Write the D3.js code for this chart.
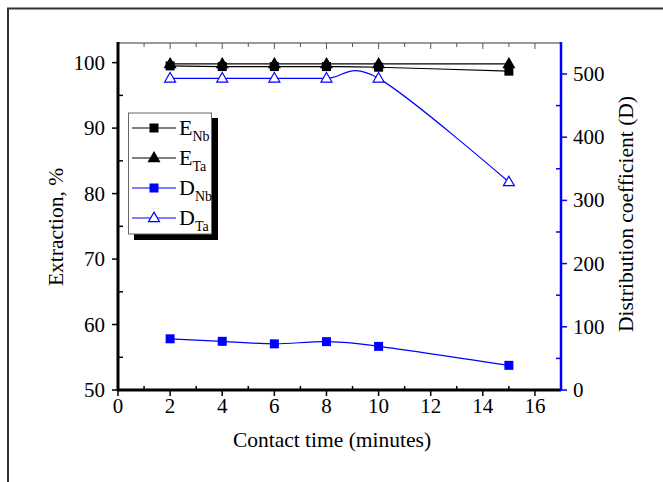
<!DOCTYPE html>
<html>
<head>
<meta charset="utf-8">
<script src="https://d3js.org/d3.v7.min.js"></script>
<style>
    body { margin: 0; background: #fff; }
    text { font-family: "Liberation Serif", "DejaVu Serif", serif; }
</style>
</head>
<body>
<div id="chart"></div>
<script>
// contact time (minutes)
const times = [2, 4, 6, 8, 10, 15];
// extraction, %
const e_nb = [99.5, 99.4, 99.4, 99.4, 99.3, 98.7];
const e_ta = [99.8, 99.8, 99.8, 99.8, 99.8, 99.8];
// distribution coefficient
const d_nb = [81, 77, 73, 76.5, 69, 39];
const d_ta = [493, 493, 493, 493, 493, 329];

const x_ticks = [0, 2, 4, 6, 8, 10, 12, 14, 16];
const left_ticks = [50, 60, 70, 80, 90, 100];
const right_ticks = [0, 100, 200, 300, 400, 500];

const width = 663, height = 482;
const blue = '#0000ff';

let svg = d3.select('#chart').append('svg')
    .attr('width', width)
    .attr('height', height);

let x = d3.scaleLinear().domain([0, 17]).range([118, 561]);
let yl = d3.scaleLinear().domain([50, 103]).range([390, 43]);
let yr = d3.scaleLinear().domain([0, 549]).range([390, 43]);

// outer frame (only top and left visible)
svg.append('path')
    .attr('d', 'M8,482 L8,8.5 L663,8.5')
    .attr('fill', 'none')
    .attr('stroke', '#333')
    .attr('stroke-width', 2);

function draw_axes() {
    // top axis, grey, ticks down
    svg.append('line')
        .attr('x1', x(0)).attr('x2', x(17))
        .attr('y1', 43).attr('y2', 43)
        .attr('stroke', '#777').attr('stroke-width', 1.5);
    svg.selectAll('.ttick')
        .data(d3.range(1, 17))
        .enter().append('line')
        .attr('x1', d => x(d)).attr('x2', d => x(d))
        .attr('y1', 43).attr('y2', d => d % 2 === 0 ? 49 : 47)
        .attr('stroke', '#555');

    // bottom axis
    let bottom = svg.append('g').attr('transform', 'translate(0,390)');
    bottom.selectAll('.minor')
        .data(d3.range(1, 17, 2))
        .enter().append('line')
        .attr('x1', d => x(d)).attr('x2', d => x(d))
        .attr('y1', -4).attr('y2', 1)
        .attr('stroke', '#000').attr('stroke-width', 1.5);
    bottom.selectAll('.major')
        .data(x_ticks)
        .enter().append('line')
        .attr('x1', d => x(d)).attr('x2', d => x(d))
        .attr('y1', 0).attr('y2', 6)
        .attr('stroke', '#000').attr('stroke-width', 1.5);
    bottom.selectAll('text')
        .data(x_ticks)
        .enter().append('text')
        .attr('x', d => x(d)).attr('y', 23)
        .attr('text-anchor', 'middle')
        .attr('font-size', 21)
        .text(d => d);
    bottom.append('line')
        .attr('x1', x(0) - 1).attr('x2', x(17))
        .attr('stroke', '#000').attr('stroke-width', 3);

    // left axis
    let left = svg.append('g').attr('transform', `translate(${x(0)},0)`);
    left.selectAll('.minor')
        .data([55, 65, 75, 85, 95])
        .enter().append('line')
        .attr('y1', d => yl(d)).attr('y2', d => yl(d))
        .attr('x1', 0).attr('x2', 5)
        .attr('stroke', '#000').attr('stroke-width', 1.5);
    left.selectAll('.major')
        .data(left_ticks)
        .enter().append('line')
        .attr('y1', d => yl(d)).attr('y2', d => yl(d))
        .attr('x1', -6).attr('x2', 0)
        .attr('stroke', '#000').attr('stroke-width', 1.5);
    left.selectAll('text')
        .data(left_ticks)
        .enter().append('text')
        .attr('x', -13).attr('y', d => yl(d) + 7)
        .attr('text-anchor', 'end')
        .attr('font-size', 21)
        .text(d => d);
    left.append('line')
        .attr('y1', 42).attr('y2', 391)
        .attr('stroke', '#000').attr('stroke-width', 3);

    // right axis, blue
    let right = svg.append('g').attr('transform', `translate(${x(17)},0)`);
    right.selectAll('.minor')
        .data([50, 150, 250, 350, 450])
        .enter().append('line')
        .attr('y1', d => yr(d)).attr('y2', d => yr(d))
        .attr('x1', -5).attr('x2', 0)
        .attr('stroke', blue).attr('stroke-width', 1.5);
    right.selectAll('.major')
        .data(right_ticks)
        .enter().append('line')
        .attr('y1', d => yr(d)).attr('y2', d => yr(d))
        .attr('x1', 0).attr('x2', 6)
        .attr('stroke', blue).attr('stroke-width', 1.5);
    right.selectAll('text')
        .data(right_ticks)
        .enter().append('text')
        .attr('x', 12).attr('y', d => yr(d) + 7)
        .attr('font-size', 21)
        .text(d => d);
    right.append('line')
        .attr('y1', 42).attr('y2', 391)
        .attr('stroke', blue).attr('stroke-width', 2.5);

    // titles
    svg.append('text')
        .attr('x', 332).attr('y', 447)
        .attr('text-anchor', 'middle')
        .attr('font-size', 21.5)
        .text('Contact time (minutes)');
    svg.append('text')
        .attr('transform', 'translate(63,227) rotate(-90)')
        .attr('text-anchor', 'middle')
        .attr('font-size', 21.5)
        .text('Extraction, %');
    svg.append('text')
        .attr('transform', 'translate(633,214) rotate(-90)')
        .attr('text-anchor', 'middle')
        .attr('font-size', 21.5)
        .text('Distribution coefficient (D)');
}

function marker(g, type, color, cx, cy) {
    if (type === 'square') {
        g.append('rect')
            .attr('x', cx - 4.5).attr('y', cy - 4.5)
            .attr('width', 9).attr('height', 9)
            .attr('fill', color);
    } else {
        let tri = d3.symbol().type(d3.symbolTriangle).size(52);
        g.append('path')
            .attr('d', tri())
            .attr('transform', `translate(${cx},${cy + 0.5})`)
            .attr('fill', type === 'open' ? '#fff' : color)
            .attr('stroke', color)
            .attr('stroke-width', 1.2);
    }
}

function draw_series(values, yscale, color, type) {
    let pts = times.map((t, i) => [x(t), yscale(values[i])]);
    let line = d3.line().curve(d3.curveCardinal.tension(0));
    svg.append('path')
        .attr('d', line(pts))
        .attr('fill', 'none')
        .attr('stroke', color)
        .attr('stroke-width', 1.2);
    let g = svg.append('g');
    pts.forEach(p => marker(g, type, color, p[0], p[1]));
}

function draw_legend() {
    let items = [
        {main: 'E', sub: 'Nb', color: '#000', type: 'square'},
        {main: 'E', sub: 'Ta', color: '#000', type: 'triangle'},
        {main: 'D', sub: 'Nb', color: blue, type: 'square'},
        {main: 'D', sub: 'Ta', color: blue, type: 'open'}
    ];
    // shadow
    svg.append('rect')
        .attr('x', 134).attr('y', 118)
        .attr('width', 84).attr('height', 122)
        .attr('fill', '#000');
    svg.append('rect')
        .attr('x', 128.5).attr('y', 113)
        .attr('width', 83).attr('height', 121)
        .attr('fill', '#fff')
        .attr('stroke', '#666')
        .attr('stroke-width', 1);
    items.forEach((d, i) => {
        let cy = 128 + i * 30;
        let g = svg.append('g');
        g.append('line')
            .attr('x1', 132).attr('x2', 176)
            .attr('y1', cy).attr('y2', cy)
            .attr('stroke', d.color)
            .attr('stroke-width', 1.2);
        marker(g, d.type, d.color, 154, cy);
        let t = g.append('text')
            .attr('x', 179).attr('y', cy + 7)
            .attr('font-size', 22);
        t.append('tspan').text(d.main);
        t.append('tspan')
            .attr('font-size', 14)
            .attr('dy', 6)
            .text(d.sub);
    });
}

draw_axes();
draw_series(e_nb, yl, '#000', 'square');
draw_series(e_ta, yl, '#000', 'triangle');
draw_series(d_nb, yr, blue, 'square');
draw_series(d_ta, yr, blue, 'open');
draw_legend();
</script>
</body>
</html>
